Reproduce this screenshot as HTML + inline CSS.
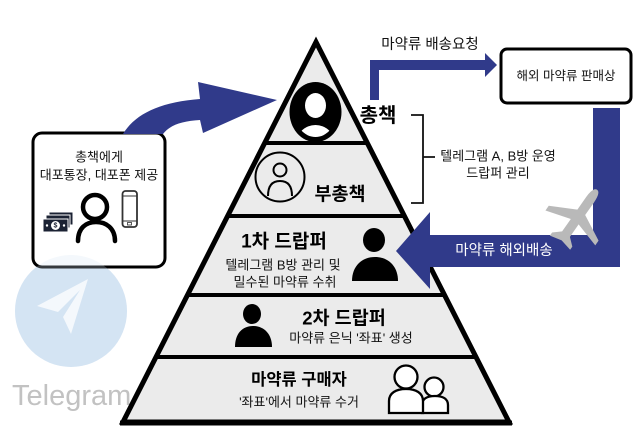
<!DOCTYPE html>
<html><head><meta charset="utf-8">
<style>
html,body{margin:0;padding:0;background:#fff;}
svg{display:block;}
text{font-family:"Liberation Sans","Noto Sans CJK KR",sans-serif;}
</style></head>
<body>
<svg width="640" height="448" viewBox="0 0 640 448" xmlns="http://www.w3.org/2000/svg">
<rect width="640" height="448" fill="#fff"/>

<!-- Telegram watermark -->
<circle cx="71" cy="311" r="56" fill="#d4e4f3"/>
<path d="M37,306 L88,279 L71,334 L63,317 L80,290 L58,312 Z" fill="#fff"/>
<text x="12" y="405" font-size="29" fill="#c2c2c2" style="font-family:'Liberation Sans',sans-serif">Telegram</text>

<!-- Left box -->
<rect x="33" y="133" width="132" height="134" rx="9" fill="#fff" stroke="#000" stroke-width="3"/>
<circle cx="71" cy="311" r="56" fill="#d4e4f3" opacity="0.25"/>
<text x="99" y="157" font-size="13" text-anchor="middle" dominant-baseline="central" fill="#111">총책에게</text>
<text x="99" y="175" font-size="13" text-anchor="middle" dominant-baseline="central" fill="#111">대포통장, 대포폰 제공</text>
<!-- person outline -->
<circle cx="95" cy="207" r="12" fill="none" stroke="#000" stroke-width="4.5"/>
<path d="M78,241 C78,228 86,222 96,222 C106,222 115,228 115,241" fill="none" stroke="#000" stroke-width="4.5" stroke-linecap="round"/>
<!-- money -->
<rect x="49" y="212" width="24" height="13" fill="#1b2233" stroke="#fff" stroke-width="1"/>
<rect x="46" y="215" width="24" height="13" fill="#1b2233" stroke="#fff" stroke-width="1"/>
<rect x="43" y="219" width="25" height="13" fill="#1b2233" stroke="#fff" stroke-width="1"/>
<circle cx="55.5" cy="225.5" r="4.5" fill="#fff"/>
<text x="55.5" y="226" font-size="7" font-weight="bold" text-anchor="middle" dominant-baseline="central" fill="#1b2233">$</text>
<circle cx="47" cy="225.5" r="1.2" fill="#fff"/>
<circle cx="64" cy="225.5" r="1.2" fill="#fff"/>
<!-- phone -->
<rect x="122.5" y="191" width="14.5" height="36" rx="3" fill="#fff" stroke="#333" stroke-width="1.8"/>
<line x1="123" y1="196" x2="136.5" y2="196" stroke="#333" stroke-width="1"/>
<line x1="123" y1="221" x2="136.5" y2="221" stroke="#333" stroke-width="1"/>
<rect x="127.5" y="222.5" width="4" height="2.5" fill="none" stroke="#333" stroke-width="0.8"/>

<!-- Curved blue arrow -->
<path d="M123,134 C135,114 160,102 200,99 L198,82 L277,100 L203,133 L200,120 C182,121 170,125 163,134 Z" fill="#303a8a"/>

<!-- Pyramid -->
<polygon points="316,42 123,422 509,422" fill="#ebebeb" stroke="#000" stroke-width="5" stroke-linejoin="miter"/>
<line x1="265" y1="143" x2="367" y2="143" stroke="#000" stroke-width="4"/>
<line x1="228" y1="216" x2="404" y2="216" stroke="#000" stroke-width="4"/>
<line x1="188" y1="295" x2="444" y2="295" stroke="#000" stroke-width="4"/>
<line x1="156" y1="357" x2="476" y2="357" stroke="#000" stroke-width="4"/>
<line x1="120" y1="423" x2="512" y2="423" stroke="#000" stroke-width="5"/>

<!-- 총책 icon -->
<defs>
<clipPath id="c1"><ellipse cx="315.5" cy="112" rx="21" ry="25"/></clipPath>
</defs>
<ellipse cx="315.5" cy="112" rx="26" ry="30" fill="#000"/>
<ellipse cx="315.5" cy="105.5" rx="10.5" ry="12.5" fill="#fff"/>
<g clip-path="url(#c1)"><ellipse cx="315.5" cy="143" rx="19" ry="18" fill="#fff"/></g>
<text x="378" y="116" font-size="20" font-weight="bold" text-anchor="middle" dominant-baseline="central" fill="#000">총책</text>

<!-- 부총책 -->
<circle cx="280" cy="177" r="24.5" fill="none" stroke="#000" stroke-width="2"/>
<circle cx="280" cy="170" r="6.5" fill="none" stroke="#000" stroke-width="2"/>
<path d="M268,196 C268,185 273,181 280,181 C287,181 292,185 292,196" fill="none" stroke="#000" stroke-width="2"/>
<text x="340" y="194" font-size="18.5" font-weight="bold" text-anchor="middle" dominant-baseline="central" fill="#000">부총책</text>

<!-- 1차 드랍퍼 -->
<text x="284" y="242" font-size="19" font-weight="bold" text-anchor="middle" dominant-baseline="central" fill="#000">1차 드랍퍼</text>
<text x="283" y="265" font-size="13" text-anchor="middle" dominant-baseline="central" fill="#111">텔레그램 B방 관리 및</text>
<text x="285" y="282" font-size="13" text-anchor="middle" dominant-baseline="central" fill="#111">밀수된 마약류 수취</text>
<ellipse cx="374" cy="240" rx="11" ry="12" fill="#000"/>
<path d="M352,281 C352,266 362,257 375,257 C388,257 398,266 398,281 Z" fill="#000"/>

<!-- 2차 드랍퍼 -->
<ellipse cx="252" cy="314" rx="9" ry="10" fill="#000"/>
<path d="M235,347 C235,334 242,326 253,326 C264,326 272,334 272,347 Z" fill="#000"/>
<text x="344" y="318" font-size="18.5" font-weight="bold" text-anchor="middle" dominant-baseline="central" fill="#000">2차 드랍퍼</text>
<text x="351" y="338" font-size="13" text-anchor="middle" dominant-baseline="central" fill="#111">마약류 은닉 '좌표' 생성</text>

<!-- 구매자 -->
<text x="299" y="380" font-size="16.5" font-weight="bold" text-anchor="middle" dominant-baseline="central" fill="#000">마약류 구매자</text>
<text x="299" y="402" font-size="13" text-anchor="middle" dominant-baseline="central" fill="#111">'좌표'에서 마약류 수거</text>
<circle cx="434" cy="387" r="9.5" fill="#fff" stroke="#000" stroke-width="2.3"/>
<path d="M422,413 L422,405 C422,399 427,396 435,396 C443,396 448,399 448,405 L448,413 Z" fill="#fff" stroke="#000" stroke-width="2.3"/>
<circle cx="406" cy="377" r="11.5" fill="#fff" stroke="#000" stroke-width="2.3"/>
<path d="M389,413 L389,401 C389,393 396,389 406,389 C416,389 423,393 423,401 L423,413 Z" fill="#fff" stroke="#000" stroke-width="2.3"/>

<!-- Top elbow arrow -->
<text x="430" y="45" font-size="14.5" text-anchor="middle" dominant-baseline="central" fill="#111">마약류 배송요청</text>
<path d="M370,100 L370,60 L485,60 L485,53 L497,65 L485,77 L485,70 L379,70 L379,100 Z" fill="#303a8a"/>

<!-- Right box -->
<rect x="501" y="49" width="130" height="54" rx="6" fill="#fff" stroke="#000" stroke-width="3"/>
<text x="566" y="76" font-size="12.5" text-anchor="middle" dominant-baseline="central" fill="#111">해외 마약류 판매상</text>

<!-- Bracket -->
<path d="M411,115 L423,115 L423,203 L411,203 M423,157 L435,157" fill="none" stroke="#111" stroke-width="1.8"/>
<text x="498" y="156" font-size="13" text-anchor="middle" dominant-baseline="central" fill="#111">텔레그램 A, B방 운영</text>
<text x="498" y="173" font-size="13" text-anchor="middle" dominant-baseline="central" fill="#111">드랍퍼 관리</text>

<!-- Right blue arrow -->
<path d="M593,108 L620,108 L620,267 L430,267 L430,289 L396,251 L430,212 L430,235 L593,235 Z" fill="#303a8a"/>
<text x="504" y="251" font-size="14.5" text-anchor="middle" dominant-baseline="central" fill="#fff">마약류 해외배송</text>

<!-- Airplane -->
<g transform="translate(578,217) rotate(35) scale(0.95)">
<path d="M0,-35 C4,-35 5,-28 5,-22 L5,-6 L32,8 L32,14 L5,6 L5,22 L13,29 L13,33 L0,30 L-13,33 L-13,29 L-5,22 L-5,6 L-32,14 L-32,8 L-5,-6 L-5,-22 C-5,-28 -4,-35 0,-35 Z" fill="#b9b9b9"/>
</g>
</svg>
</body></html>
